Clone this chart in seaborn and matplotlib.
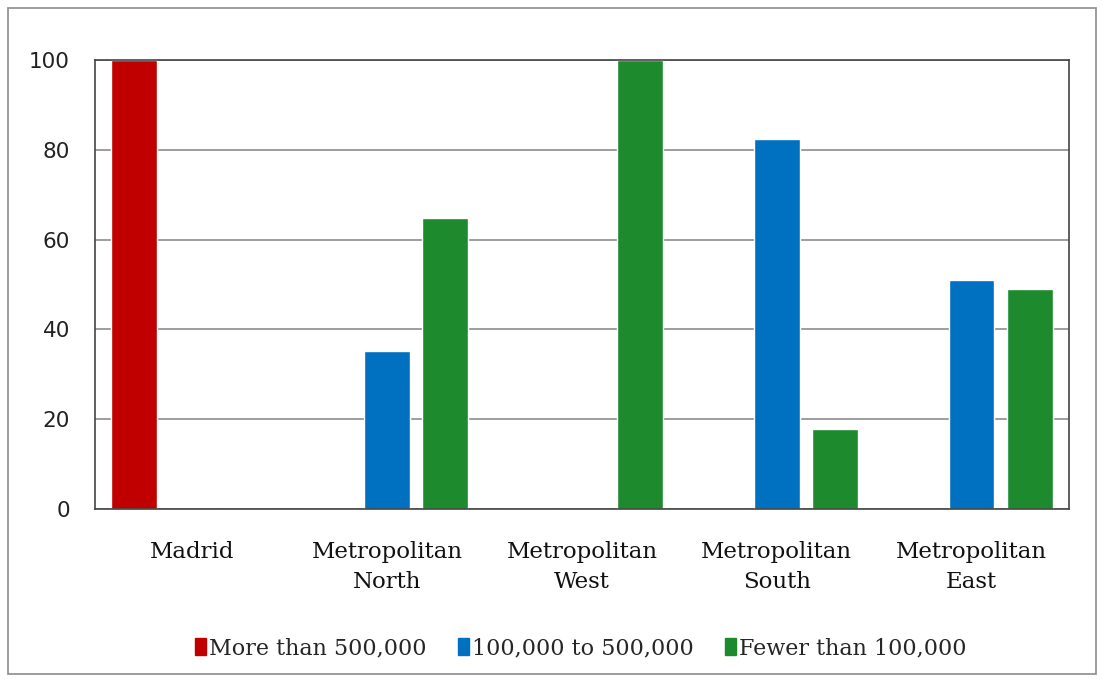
import pandas as pd
import matplotlib
matplotlib.use("Agg")
import matplotlib.pyplot as plt
import matplotlib.patches as mpatches
import seaborn as sns

# data
regioes = ["Madrid", "Metropolitan\nNorth", "Metropolitan\nWest",
           "Metropolitan\nSouth", "Metropolitan\nEast"]
grupos = ["More than 500,000", "100,000 to 500,000", "Fewer than 100,000"]
mais_500k = [100, 0, 0, 0, 0]
entre_100k_500k = [0, 35.2, 0, 82.5, 51.0]
menos_100k = [0, 64.8, 100, 17.8, 49.1]
cores = ["#c00000", "#0070c0", "#1e8a2e"]

df = pd.DataFrame({
    "regiao": regioes * 3,
    "grupo": [g for g in grupos for _ in regioes],
    "valor": mais_500k + entre_100k_500k + menos_100k,
})

sns.set_theme(style="white")
plt.rcParams["font.family"] = ["DejaVu Serif"]

fig = plt.figure(figsize=(11.02, 6.79), dpi=100)
ax = fig.add_axes([0.0862, 0.2504, 0.8838, 0.6612])

sns.barplot(data=df, x="regiao", y="valor", hue="grupo", hue_order=grupos,
            palette=cores, width=0.894, gap=0.21, saturation=1,
            ax=ax, legend=False)

ax.set_ylim(0, 100)
ax.set_xlim(-0.5, len(regioes) - 0.5)
ax.set_yticks([0, 20, 40, 60, 80, 100])
ax.yaxis.grid(True, color="#8c8c8c", linewidth=1.2)
ax.set_axisbelow(True)
ax.set_xlabel("")
ax.set_ylabel("")
for lado in ["left", "bottom", "top", "right"]:
    ax.spines[lado].set_visible(True)
    ax.spines[lado].set_color("#444444")
    ax.spines[lado].set_linewidth(1.2)
ax.tick_params(axis="y", length=0, pad=18, labelsize=15.5)
ax.tick_params(axis="x", length=0, pad=23, labelsize=16.5)
for t in ax.get_yticklabels():
    t.set_fontfamily("DejaVu Sans")
    t.set_color("#222222")
for t in ax.get_xticklabels():
    t.set_linespacing(1.45)
    t.set_color("#111111")

handles = [mpatches.Patch(color=c, label=g) for c, g in zip(cores, grupos)]
fig.legend(handles=handles, loc="center", bbox_to_anchor=(0.527, 0.045),
           ncol=3, frameon=False, fontsize=16, handlelength=0.5,
           handleheight=0.8, handletextpad=0.15, columnspacing=1.4)

# moldura externa do gráfico
fig.patches.append(mpatches.Rectangle((0.007, 0.008), 0.988, 0.98,
                                      transform=fig.transFigure, fill=False,
                                      edgecolor="#8c8c8c", linewidth=1.2))

fig.savefig("out.png", dpi=100)
